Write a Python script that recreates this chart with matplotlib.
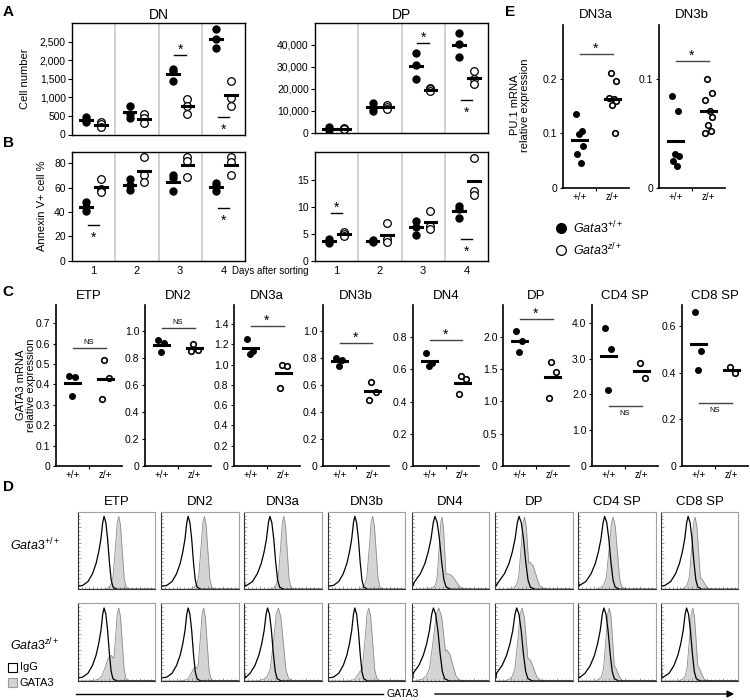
import matplotlib
matplotlib.use('Agg')
import matplotlib.pyplot as plt
import numpy as np
from matplotlib.ticker import FuncFormatter

plt.rcParams['font.family'] = ['Liberation Sans', 'DejaVu Sans']
plt.rcParams['mathtext.fontset'] = 'custom'
plt.rcParams['mathtext.it'] = 'Liberation Sans:italic'
plt.rcParams['mathtext.rm'] = 'Liberation Sans'

W, H = 750, 700

# ---------------- data ----------------
days = [1, 2, 3, 4]
# A: cell number
dn_wt = [[470, 400, 330], [780, 560, 440], [1760, 1700, 1450], [2840, 2570, 2320]]
dn_z = [[330, 280, 190], [540, 450, 300], [960, 760, 550], [1440, 990, 760]]
dp_wt = [[2600, 2000, 1500], [13500, 11500, 10000], [36200, 31000, 24500], [45300, 40500, 34500]]
dp_z = [[2300, 2000, 1700], [12800, 11800, 10800], [20500, 19800, 19000], [28000, 24500, 22500]]
dn_stars = [(3, 2130, 'up'), (4, 480, 'down')]
dp_stars = [(3, 40800, 'up'), (4, 15000, 'down')]
# B: annexin V+ %
ann_dn_wt = [[48, 44, 41], [67, 62, 58], [70, 68, 57], [64, 61, 57]]
ann_dn_z = [[67, 59, 56], [85, 70, 65], [85, 82, 69], [85, 81, 70]]
ann_dp_wt = [[4.0, 3.6, 3.3], [3.8, 3.6, 3.4], [7.4, 6.3, 4.8], [10.2, 9.6, 8.0]]
ann_dp_z = [[5.3, 4.9, 4.5], [7.0, 4.0, 3.5], [9.2, 6.5, 5.9], [19.0, 12.9, 12.2]]
ann_dn_stars = [(1, 29.3, 'down'), (4, 43, 'down')]
ann_dp_stars = [(1, 8.8, 'up'), (4, 4.0, 'down')]

# C: GATA3 mRNA
c_pops = ['ETP', 'DN2', 'DN3a', 'DN3b', 'DN4', 'DP', 'CD4 SP', 'CD8 SP']
c_wt = [[0.44, 0.435, 0.345], [0.93, 0.91, 0.84], [1.25, 1.14, 1.11], [0.80, 0.78, 0.74],
        [0.70, 0.64, 0.62], [2.09, 1.93, 1.77], [3.85, 3.27, 2.13], [0.66, 0.495, 0.41]]
c_z = [[0.52, 0.43, 0.33], [0.90, 0.86, 0.85], [1.0, 0.99, 0.77], [0.62, 0.55, 0.49],
       [0.56, 0.54, 0.45], [1.61, 1.46, 1.05], [2.87, 2.45], [0.425, 0.40]]
c_ymax = [0.79, 1.19, 1.59, 1.19, 1.0, 2.49, 4.5, 0.69]
c_ticks = [[0, 0.1, 0.2, 0.3, 0.4, 0.5, 0.6, 0.7], [0, 0.2, 0.4, 0.6, 0.8, 1.0],
           [0, 0.2, 0.4, 0.6, 0.8, 1.0, 1.2, 1.4], [0, 0.2, 0.4, 0.6, 0.8, 1.0],
           [0, 0.2, 0.4, 0.6, 0.8], [0, 0.5, 1.0, 1.5, 2.0], [0, 1.0, 2.0, 3.0, 4.0],
           [0, 0.2, 0.4, 0.6]]
c_sig = ['NS', 'NS', '*', '*', '*', '*', 'NS', 'NS']
c_sig_y = [0.58, 1.02, 1.38, 0.91, 0.78, 2.27, 1.68, 0.27]
c_sig_below = [False, False, False, False, False, False, True, True]

# E: PU.1 mRNA
e_pops = ['DN3a', 'DN3b']
e_wt = [[0.135, 0.104, 0.098, 0.077, 0.062, 0.046],
        [0.084, 0.071, 0.031, 0.029, 0.024, 0.020]]
e_z = [[0.211, 0.197, 0.165, 0.163, 0.160, 0.152, 0.101],
       [0.100, 0.087, 0.081, 0.071, 0.065, 0.058, 0.052, 0.050]]
e_ymax = [0.30, 0.15]
e_ticks = [[0, 0.1, 0.2], [0, 0.1]]
e_sig_y = [0.247, 0.117]

# D: flow histograms (shape, placed per population)
igg_off = [-0.30, -0.24, -0.18, -0.13, -0.09, -0.06, -0.035, -0.015, 0.0, 0.02, 0.04, 0.06, 0.08, 0.10, 0.14]
igg_h = [0.04, 0.05, 0.10, 0.20, 0.33, 0.48, 0.65, 0.86, 0.94, 0.86, 0.65, 0.35, 0.12, 0.03, 0.0]
gata_off = [-0.14, -0.10, -0.075, -0.055, -0.035, -0.015, 0.0, 0.017, 0.034, 0.05, 0.07, 0.10]
gata_h = [0.0, 0.02, 0.06, 0.16, 0.48, 0.86, 0.94, 0.82, 0.48, 0.15, 0.03, 0.0]
# per row: IgG peak, IgG width, IgG left-edge level
igg_peak = [[0.34, 0.35, 0.33, 0.35, 0.30, 0.31, 0.34, 0.35],
            [0.34, 0.35, 0.30, 0.35, 0.28, 0.28, 0.33, 0.33]]
igg_wid = [[1.15, 1.15, 1.25, 1.15, 1.45, 1.45, 1.35, 1.25],
           [1.15, 1.15, 1.25, 1.15, 1.45, 1.45, 1.35, 1.25]]
igg_left = [[0.14, 0.06, 0.10, 0.08, 0.12, 0.12, 0.10, 0.06],
            [0.30, 0.05, 0.12, 0.30, 0.15, 0.10, 0.10, 0.35]]
# GATA3 components: (peak, height, width)
gata_comp = [
    [[(0.53, 0.94, 1.35)], [(0.56, 0.94, 1.35)], [(0.51, 0.94, 1.3)], [(0.58, 0.94, 1.35)],
     [(0.39, 0.93, 1.1), (0.47, 0.2, 3.0)], [(0.38, 0.93, 1.35), (0.45, 0.35, 2.4)],
     [(0.45, 0.93, 1.6)], [(0.44, 0.93, 1.35), (0.50, 0.15, 1.8)]],
    [[(0.53, 0.94, 1.35), (0.43, 0.33, 2.2)], [(0.55, 0.94, 1.35), (0.45, 0.18, 1.8)],
     [(0.44, 0.94, 1.9), (0.38, 0.2, 1.8)], [(0.53, 0.94, 1.5), (0.45, 0.15, 1.8)],
     [(0.35, 0.94, 2.2), (0.45, 0.4, 2.4)], [(0.35, 0.94, 1.7), (0.42, 0.3, 2.4)],
     [(0.40, 0.94, 1.35), (0.45, 0.2, 1.8)], [(0.41, 0.94, 1.35), (0.46, 0.2, 1.8)]],
]

# ---------------- figure ----------------
fig = plt.figure(figsize=(7.5, 7), dpi=100)


def axes_px(x0, y0, x1, y1):
    return fig.add_axes([x0 / W, 1 - y1 / H, (x1 - x0) / W, (y1 - y0) / H])


def star_mark(ax, x, y, where, half=0.135):
    ax.plot([x - half, x + half], [y, y], color='k', lw=1.0)
    if where == 'up':
        ax.annotate('*', (x, y), xytext=(0, 1), textcoords='offset points',
                    ha='center', va='baseline', fontsize=10)
    else:
        ax.annotate('*', (x, y), xytext=(0, -12), textcoords='offset points',
                    ha='center', va='baseline', fontsize=10)


def day_panel(ax, wt, z, ymax, ticks, stars, fmt):
    for i, d in enumerate(days):
        ax.plot([d - 0.17] * len(wt[i]), wt[i], 'o', color='k', ms=5, zorder=3)
        ax.plot([d + 0.17] * len(z[i]), z[i], 'o', mfc='white', mec='k', mew=0.9, ms=5.5, zorder=3)
        ax.plot([d - 0.305, d - 0.035], [np.mean(wt[i])] * 2, color='k', lw=2.2, zorder=4)
        ax.plot([d + 0.035, d + 0.305], [np.mean(z[i])] * 2, color='k', lw=2.2, zorder=4)
    for s in stars:
        star_mark(ax, s[0], s[1], s[2])
    for xv in [1.5, 2.5, 3.5]:
        ax.axvline(xv, color='#c8c8c8', lw=1.2, zorder=1)
    ax.set_xlim(0.5, 4.5)
    ax.set_ylim(0, ymax)
    ax.set_yticks(ticks)
    ax.yaxis.set_major_formatter(FuncFormatter(fmt))
    ax.tick_params(axis='y', length=3, width=0.8, labelsize=7.5, pad=1.5)
    for sp in ax.spines.values():
        sp.set_linewidth(1.0)


comma = lambda v, p: '{:,.0f}'.format(v)
plain = lambda v, p: '{:.0f}'.format(v)

# A
axA1 = axes_px(72, 23, 245, 134.5)
day_panel(axA1, dn_wt, dn_z, 3000, [0, 500, 1000, 1500, 2000, 2500], dn_stars, comma)
axA1.set_xticks([])
axA1.set_title('DN', fontsize=10, pad=3)
axA2 = axes_px(315, 23, 488, 133)
day_panel(axA2, dp_wt, dp_z, 50000, [0, 10000, 20000, 30000, 40000], dp_stars, comma)
axA2.set_xticks([])
axA2.set_title('DP', fontsize=10, pad=3)

# B
axB1 = axes_px(72, 151.7, 245, 260.7)
day_panel(axB1, ann_dn_wt, ann_dn_z, 89.5, [0, 20, 40, 60, 80], ann_dn_stars, plain)
axB2 = axes_px(315, 151.7, 488, 260.7)
day_panel(axB2, ann_dp_wt, ann_dp_z, 20.2, [0, 5, 10, 15], ann_dp_stars, plain)
for ax in (axB1, axB2):
    ax.set_xticks(days)
    ax.tick_params(axis='x', length=0, labelsize=8, pad=4)

# C
JIT_W = [-0.12, 0.08, -0.02, 0.1, -0.08, 0.04]
JIT_Z = [-0.06, 0.1, -0.1, 0.04, 0.12, -0.02, 0.07, -0.12]
c_left = [56, 145, 234, 323, 413, 503, 592, 682]


def fmt1(v, p):
    return '0' if v == 0 else '{:.1f}'.format(v)


def dot_axes(ax, wt, z, ymax, ticks, bar_half, msz):
    ax.plot([1 + JIT_W[k] for k in range(len(wt))], wt, 'o', color='k', ms=msz, zorder=3)
    ax.plot([2 + JIT_Z[k] for k in range(len(z))], z, 'o', mfc='white', mec='k', mew=1.2,
            ms=msz, zorder=3)
    ax.plot([1 - bar_half, 1 + bar_half], [np.mean(wt)] * 2, color='k', lw=2.2, zorder=4)
    ax.plot([2 - bar_half, 2 + bar_half], [np.mean(z)] * 2, color='k', lw=2.2, zorder=4)
    ax.set_xlim(0.5, 2.5)
    ax.set_ylim(0, ymax)
    ax.set_yticks(ticks)
    ax.yaxis.set_major_formatter(FuncFormatter(fmt1))
    ax.set_xticks([1, 2])
    ax.set_xticklabels(['+/+', 'z/+'])
    ax.set_xticks([1.5], minor=True)
    ax.tick_params(axis='x', which='major', length=0, labelsize=7, pad=3)
    ax.tick_params(axis='x', which='minor', length=2.5, width=0.8)
    ax.tick_params(axis='y', length=2.5, width=0.8, labelsize=7.5, pad=1.5)
    for s in ['top', 'right']:
        ax.spines[s].set_visible(False)
    for s in ['left', 'bottom']:
        ax.spines[s].set_linewidth(1.2)
    ax.patch.set_alpha(0)


for i, pop in enumerate(c_pops):
    ax = axes_px(c_left[i], 305, c_left[i] + 66, 466)
    dot_axes(ax, c_wt[i], c_z[i], c_ymax[i], c_ticks[i], 0.23, 4)
    ax.set_title(pop, fontsize=9.5, pad=4)
    yl = c_sig_y[i]
    ax.plot([1, 2], [yl, yl], color='#444444', lw=1.0)
    if c_sig[i] == '*':
        ax.annotate('*', (1.5, yl), xytext=(0, 1), textcoords='offset points',
                    ha='center', va='baseline', fontsize=10)
    elif c_sig_below[i]:
        ax.annotate('NS', (1.5, yl), xytext=(0, -3), textcoords='offset points',
                    ha='center', va='top', fontsize=5.5)
    else:
        ax.annotate('NS', (1.5, yl), xytext=(0, 1.5), textcoords='offset points',
                    ha='center', va='bottom', fontsize=5.5)

# E
e_left = [563, 659]
for i, pop in enumerate(e_pops):
    ax = axes_px(e_left[i], 25, e_left[i] + 66, 187.5)
    dot_axes(ax, e_wt[i], e_z[i], e_ymax[i], e_ticks[i], 0.23, 4)
    ax.set_title(pop, fontsize=9.5, pad=5)
    ax.plot([1, 2], [e_sig_y[i]] * 2, color='#444444', lw=1.0)
    ax.annotate('*', (1.5, e_sig_y[i]), xytext=(0, 1), textcoords='offset points',
                ha='center', va='baseline', fontsize=10)

# D
d_left = [77.7, 161, 244.3, 327.7, 411.7, 495, 578.3, 661]
d_rows = [(511.7, 589.3), (603.3, 681)]
grid = np.linspace(0, 1, 401)


def igg_line(peak, wid, left):
    xs = [0.0, 0.012] + [peak + o * wid for o in igg_off] + [1.0]
    ys = [left, 0.04] + igg_h + [0.0]
    pairs = sorted(p for p in zip(xs, ys) if 0 <= p[0] <= 1)
    return [p[0] for p in pairs], [p[1] for p in pairs]


def gata_fill(comps):
    out = np.zeros_like(grid)
    for pk, ht, wd in comps:
        xs = [pk + o * wd for o in gata_off]
        ys = [v * ht / 0.94 for v in gata_h]
        out = np.maximum(out, np.interp(grid, xs, ys, left=0, right=0))
    return out


for r in range(2):
    for i, pop in enumerate(c_pops):
        ax = axes_px(d_left[i], d_rows[r][0], d_left[i] + 77.5, d_rows[r][1])
        gy = gata_fill(gata_comp[r][i])
        ax.fill_between(grid, 0, gy, color='#d4d4d4', lw=0)
        ax.plot(grid, gy, color='#8c8c8c', lw=0.6)
        ix, iy = igg_line(igg_peak[r][i], igg_wid[r][i], igg_left[r][i])
        ax.plot(ix, iy, color='k', lw=0.9)
        ax.set_xlim(0, 1)
        ax.set_ylim(0, 1)
        ax.set_xticks(np.linspace(0, 1, 6)[1:-1])
        ax.set_yticks(np.linspace(0, 1, 6)[1:-1])
        ax.set_xticks(np.linspace(0, 1, 21), minor=True)
        ax.set_yticks(np.linspace(0, 1, 21), minor=True)
        ax.tick_params(which='both', direction='in', labelbottom=False, labelleft=False,
                       color='#777777', width=0.5)
        ax.tick_params(which='major', length=2.5)
        ax.tick_params(which='minor', length=1.2)
        for sp in ['top', 'right']:
            ax.spines[sp].set_color('#a0a0a0')
            ax.spines[sp].set_linewidth(0.8)
        for sp in ['left', 'bottom']:
            ax.spines[sp].set_color('#333333')
            ax.spines[sp].set_linewidth(0.8)
        if r == 0:
            ax.set_title(pop, fontsize=9.5, pad=5)

# overlay in pixel coordinates
ov = fig.add_axes([0, 0, 1, 1], zorder=10)
ov.set_xlim(0, W)
ov.set_ylim(H, 0)
ov.axis('off')

for lab, x, y in [('A', 8, 12), ('B', 8, 143), ('C', 8, 292), ('D', 8, 487), ('E', 510, 12)]:
    ov.text(x, y, lab, fontsize=11, fontweight='bold', ha='center', va='center')

ov.text(25, 78.5, 'Cell number', rotation=90, fontsize=8, ha='center', va='center')
ov.text(42, 206, 'Annexin V+ cell %', rotation=90, fontsize=8, ha='center', va='center')
ov.text(270, 271, 'Days after sorting', fontsize=7, ha='center', va='center')
ov.text(26, 385, 'GATA3 mRNA\nrelative expression', rotation=90, fontsize=8,
        ha='center', va='center', linespacing=1.0)
ov.text(520, 105, 'PU.1 mRNA\nrelative expression', rotation=90, fontsize=8,
        ha='center', va='center', linespacing=1.0)

# E legend
ov.plot([561], [228], 'o', color='k', ms=7)
ov.plot([561], [250], 'o', mfc='white', mec='k', mew=0.9, ms=7)
ov.text(573, 228, r'$\mathit{Gata3}^{\mathit{+/+}}$', fontsize=9, va='center', ha='left')
ov.text(573, 250, r'$\mathit{Gata3}^{\mathit{z/+}}$', fontsize=9, va='center', ha='left')

# D row labels and legend
ov.text(10, 545, r'$\mathit{Gata3}^{\mathit{+/+}}$', fontsize=9, va='center', ha='left')
ov.text(10, 645, r'$\mathit{Gata3}^{\mathit{z/+}}$', fontsize=9, va='center', ha='left')
ov.add_patch(plt.Rectangle((7.5, 663), 9, 9, fc='white', ec='k', lw=0.8))
ov.add_patch(plt.Rectangle((7.5, 678), 9, 9, fc='#d4d4d4', ec='#999999', lw=0.8))
ov.text(20, 667.5, 'IgG', fontsize=8, va='center', ha='left')
ov.text(20, 682.5, 'GATA3', fontsize=8, va='center', ha='left')

ov.plot([76, 383], [694, 694], color='k', lw=1.0)
ov.text(403, 694, 'GATA3', fontsize=7.5, ha='center', va='center')
ov.annotate('', xy=(737, 694), xytext=(432, 694),
            arrowprops=dict(arrowstyle='-|>', lw=1.0, color='k', mutation_scale=10))

fig.savefig('out.png', dpi=100)
